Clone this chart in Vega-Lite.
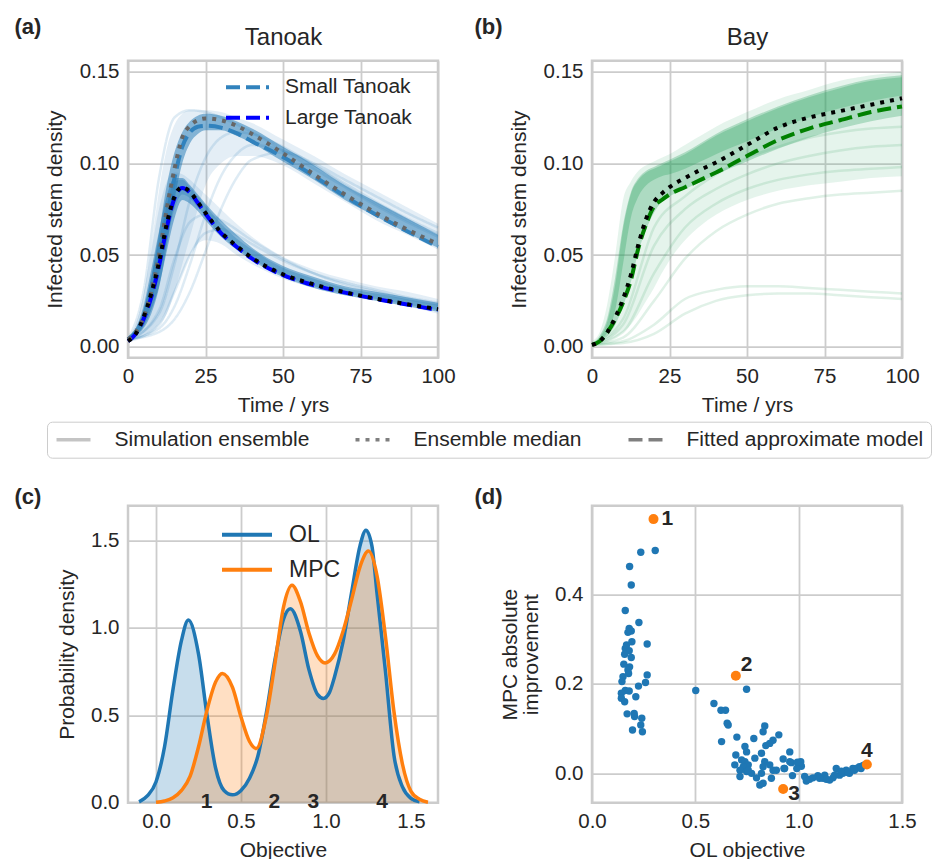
{
  "$schema": "https://vega.github.io/schema/vega-lite/v6.json",
  "background": "white",
  "padding": {"left": 12, "top": 13.7, "right": 0, "bottom": 0},
  "autosize": {"type": "pad"},
  "columns": 2,
  "bounds": "flush",
  "spacing": {"row": 148, "column": 154},
  "resolve": {"scale": {"color": "independent", "strokeDash": "independent"}},
  "datasets": {
    "band": [
      {"g":"S","t":0,"o1":0.003,"i1":0.003,"i2":0.005,"o2":0.005},
      {"g":"S","t":2.5,"o1":0.004,"i1":0.006,"i2":0.01,"o2":0.012},
      {"g":"S","t":5,"o1":0.006,"i1":0.01,"i2":0.02,"o2":0.028},
      {"g":"S","t":7.5,"o1":0.008,"i1":0.018,"i2":0.038,"o2":0.055},
      {"g":"S","t":10,"o1":0.012,"i1":0.032,"i2":0.062,"o2":0.085},
      {"g":"S","t":12.5,"o1":0.018,"i1":0.055,"i2":0.088,"o2":0.108},
      {"g":"S","t":15,"o1":0.03,"i1":0.08,"i2":0.106,"o2":0.121},
      {"g":"S","t":17.5,"o1":0.045,"i1":0.1,"i2":0.117,"o2":0.127},
      {"g":"S","t":20,"o1":0.06,"i1":0.111,"i2":0.123,"o2":0.129},
      {"g":"S","t":22.5,"o1":0.075,"i1":0.116,"i2":0.126,"o2":0.129},
      {"g":"S","t":25,"o1":0.088,"i1":0.118,"i2":0.127,"o2":0.129},
      {"g":"S","t":30,"o1":0.1,"i1":0.118,"i2":0.126,"o2":0.128},
      {"g":"S","t":35,"o1":0.104,"i1":0.115,"i2":0.123,"o2":0.125},
      {"g":"S","t":40,"o1":0.104,"i1":0.111,"i2":0.119,"o2":0.122},
      {"g":"S","t":50,"o1":0.099,"i1":0.101,"i2":0.109,"o2":0.113},
      {"g":"S","t":60,"o1":0.089,"i1":0.091,"i2":0.099,"o2":0.104},
      {"g":"S","t":70,"o1":0.079,"i1":0.08,"i2":0.088,"o2":0.094},
      {"g":"S","t":80,"o1":0.069,"i1":0.071,"i2":0.079,"o2":0.085},
      {"g":"S","t":90,"o1":0.061,"i1":0.062,"i2":0.07,"o2":0.076},
      {"g":"S","t":100,"o1":0.053,"i1":0.054,"i2":0.061,"o2":0.067},
      {"g":"L","t":0,"o1":0.003,"i1":0.003,"i2":0.004,"o2":0.005,"c1":0.003,"c2":0.004},
      {"g":"L","t":2.5,"o1":0.004,"i1":0.006,"i2":0.01,"o2":0.012,"c1":0.006,"c2":0.009},
      {"g":"L","t":5,"o1":0.006,"i1":0.011,"i2":0.022,"o2":0.028,"c1":0.012,"c2":0.02},
      {"g":"L","t":7.5,"o1":0.009,"i1":0.02,"i2":0.042,"o2":0.052,"c1":0.024,"c2":0.038},
      {"g":"L","t":10,"o1":0.013,"i1":0.033,"i2":0.063,"o2":0.075,"c1":0.04,"c2":0.058},
      {"g":"L","t":12.5,"o1":0.02,"i1":0.052,"i2":0.082,"o2":0.09,"c1":0.058,"c2":0.077},
      {"g":"L","t":15,"o1":0.03,"i1":0.07,"i2":0.092,"o2":0.095,"c1":0.075,"c2":0.09},
      {"g":"L","t":17.5,"o1":0.04,"i1":0.08,"i2":0.092,"o2":0.094,"c1":0.083,"c2":0.091},
      {"g":"L","t":20,"o1":0.05,"i1":0.078,"i2":0.088,"o2":0.091,"c1":0.081,"c2":0.087},
      {"g":"L","t":22.5,"o1":0.056,"i1":0.074,"i2":0.083,"o2":0.087,"c1":0.076,"c2":0.082},
      {"g":"L","t":25,"o1":0.058,"i1":0.069,"i2":0.078,"o2":0.083,"c1":0.071,"c2":0.077},
      {"g":"L","t":30,"o1":0.056,"i1":0.06,"i2":0.069,"o2":0.075,"c1":0.061,"c2":0.067},
      {"g":"L","t":35,"o1":0.05,"i1":0.053,"i2":0.061,"o2":0.067,"c1":0.054,"c2":0.059},
      {"g":"L","t":40,"o1":0.045,"i1":0.047,"i2":0.054,"o2":0.06,"c1":0.048,"c2":0.053},
      {"g":"L","t":50,"o1":0.037,"i1":0.038,"i2":0.044,"o2":0.049,"c1":0.039,"c2":0.043},
      {"g":"L","t":60,"o1":0.032,"i1":0.032,"i2":0.038,"o2":0.042,"c1":0.033,"c2":0.037},
      {"g":"L","t":70,"o1":0.028,"i1":0.028,"i2":0.033,"o2":0.037,"c1":0.029,"c2":0.032},
      {"g":"L","t":80,"o1":0.025,"i1":0.025,"i2":0.03,"o2":0.033,"c1":0.026,"c2":0.029},
      {"g":"L","t":90,"o1":0.022,"i1":0.022,"i2":0.027,"o2":0.03,"c1":0.023,"c2":0.026},
      {"g":"L","t":100,"o1":0.018,"i1":0.019,"i2":0.024,"o2":0.026,"c1":0.02,"c2":0.023},
      {"g":"B","t":0,"o1":0.001,"i1":0.001,"i2":0.002,"o2":0.003,"c1":0.001,"c2":0.002},
      {"g":"B","t":2.5,"o1":0.002,"i1":0.003,"i2":0.006,"o2":0.008,"c1":0.003,"c2":0.005},
      {"g":"B","t":5,"o1":0.003,"i1":0.006,"i2":0.016,"o2":0.024,"c1":0.008,"c2":0.014},
      {"g":"B","t":7.5,"o1":0.005,"i1":0.012,"i2":0.038,"o2":0.05,"c1":0.02,"c2":0.034},
      {"g":"B","t":10,"o1":0.008,"i1":0.022,"i2":0.066,"o2":0.08,"c1":0.045,"c2":0.064},
      {"g":"B","t":12.5,"o1":0.012,"i1":0.035,"i2":0.084,"o2":0.09,"c1":0.07,"c2":0.083},
      {"g":"B","t":15,"o1":0.018,"i1":0.052,"i2":0.092,"o2":0.096,"c1":0.082,"c2":0.091},
      {"g":"B","t":17.5,"o1":0.025,"i1":0.064,"i2":0.096,"o2":0.099,"c1":0.088,"c2":0.095},
      {"g":"B","t":20,"o1":0.032,"i1":0.073,"i2":0.098,"o2":0.101,"c1":0.091,"c2":0.097},
      {"g":"B","t":22.5,"o1":0.04,"i1":0.079,"i2":0.1,"o2":0.103,"c1":0.093,"c2":0.099},
      {"g":"B","t":25,"o1":0.047,"i1":0.082,"i2":0.102,"o2":0.105,"c1":0.094,"c2":0.101},
      {"g":"B","t":30,"o1":0.058,"i1":0.086,"i2":0.106,"o2":0.11,"c1":0.097,"c2":0.105},
      {"g":"B","t":35,"o1":0.066,"i1":0.09,"i2":0.111,"o2":0.115,"c1":0.101,"c2":0.11},
      {"g":"B","t":40,"o1":0.072,"i1":0.094,"i2":0.116,"o2":0.12,"c1":0.105,"c2":0.115},
      {"g":"B","t":50,"o1":0.08,"i1":0.101,"i2":0.124,"o2":0.128,"c1":0.112,"c2":0.123},
      {"g":"B","t":60,"o1":0.085,"i1":0.108,"i2":0.131,"o2":0.135,"c1":0.119,"c2":0.13},
      {"g":"B","t":70,"o1":0.088,"i1":0.114,"i2":0.137,"o2":0.14,"c1":0.125,"c2":0.136},
      {"g":"B","t":80,"o1":0.09,"i1":0.119,"i2":0.142,"o2":0.145,"c1":0.13,"c2":0.141},
      {"g":"B","t":90,"o1":0.092,"i1":0.123,"i2":0.146,"o2":0.148,"c1":0.134,"c2":0.145},
      {"g":"B","t":100,"o1":0.093,"i1":0.126,"i2":0.148,"o2":0.15,"c1":0.137,"c2":0.147}
    ],
    "runs": [
      {"g":"S","r":"S1","k":"ens","t":0,"v":0.004},{"g":"S","r":"S1","k":"ens","t":10,"v":0.01},{"g":"S","r":"S1","k":"ens","t":15,"v":0.022},{"g":"S","r":"S1","k":"ens","t":20,"v":0.045},{"g":"S","r":"S1","k":"ens","t":25,"v":0.072},{"g":"S","r":"S1","k":"ens","t":30,"v":0.093},{"g":"S","r":"S1","k":"ens","t":35,"v":0.105},{"g":"S","r":"S1","k":"ens","t":40,"v":0.11},{"g":"S","r":"S1","k":"ens","t":50,"v":0.107},{"g":"S","r":"S1","k":"ens","t":60,"v":0.099},{"g":"S","r":"S1","k":"ens","t":70,"v":0.089},{"g":"S","r":"S1","k":"ens","t":80,"v":0.079},{"g":"S","r":"S1","k":"ens","t":90,"v":0.07},{"g":"S","r":"S1","k":"ens","t":100,"v":0.062},
      {"g":"S","r":"S2","k":"ens","t":0,"v":0.004},{"g":"S","r":"S2","k":"ens","t":10,"v":0.018},{"g":"S","r":"S2","k":"ens","t":15,"v":0.045},{"g":"S","r":"S2","k":"ens","t":20,"v":0.08},{"g":"S","r":"S2","k":"ens","t":25,"v":0.103},{"g":"S","r":"S2","k":"ens","t":30,"v":0.114},{"g":"S","r":"S2","k":"ens","t":35,"v":0.117},{"g":"S","r":"S2","k":"ens","t":40,"v":0.116},{"g":"S","r":"S2","k":"ens","t":50,"v":0.109},{"g":"S","r":"S2","k":"ens","t":60,"v":0.099},{"g":"S","r":"S2","k":"ens","t":70,"v":0.088},{"g":"S","r":"S2","k":"ens","t":80,"v":0.078},{"g":"S","r":"S2","k":"ens","t":90,"v":0.069},{"g":"S","r":"S2","k":"ens","t":100,"v":0.061},
      {"g":"S","r":"S3","k":"ens","t":0,"v":0.004},{"g":"S","r":"S3","k":"ens","t":10,"v":0.008},{"g":"S","r":"S3","k":"ens","t":15,"v":0.015},{"g":"S","r":"S3","k":"ens","t":20,"v":0.03},{"g":"S","r":"S3","k":"ens","t":25,"v":0.052},{"g":"S","r":"S3","k":"ens","t":30,"v":0.075},{"g":"S","r":"S3","k":"ens","t":35,"v":0.092},{"g":"S","r":"S3","k":"ens","t":40,"v":0.102},{"g":"S","r":"S3","k":"ens","t":50,"v":0.106},{"g":"S","r":"S3","k":"ens","t":60,"v":0.1},{"g":"S","r":"S3","k":"ens","t":70,"v":0.091},{"g":"S","r":"S3","k":"ens","t":80,"v":0.082},{"g":"S","r":"S3","k":"ens","t":90,"v":0.073},{"g":"S","r":"S3","k":"ens","t":100,"v":0.065},
      {"g":"S","r":"S4","k":"ens","t":0,"v":0.004},{"g":"S","r":"S4","k":"ens","t":5,"v":0.03},{"g":"S","r":"S4","k":"ens","t":10,"v":0.092},{"g":"S","r":"S4","k":"ens","t":15,"v":0.125},{"g":"S","r":"S4","k":"ens","t":20,"v":0.129},{"g":"S","r":"S4","k":"ens","t":25,"v":0.128},{"g":"S","r":"S4","k":"ens","t":30,"v":0.125},{"g":"S","r":"S4","k":"ens","t":40,"v":0.117},{"g":"S","r":"S4","k":"ens","t":50,"v":0.107},{"g":"S","r":"S4","k":"ens","t":60,"v":0.097},{"g":"S","r":"S4","k":"ens","t":70,"v":0.087},{"g":"S","r":"S4","k":"ens","t":80,"v":0.077},{"g":"S","r":"S4","k":"ens","t":90,"v":0.068},{"g":"S","r":"S4","k":"ens","t":100,"v":0.06},
      {"g":"L","r":"L1","k":"ens","t":0,"v":0.003},{"g":"L","r":"L1","k":"ens","t":10,"v":0.012},{"g":"L","r":"L1","k":"ens","t":15,"v":0.03},{"g":"L","r":"L1","k":"ens","t":20,"v":0.05},{"g":"L","r":"L1","k":"ens","t":25,"v":0.062},{"g":"L","r":"L1","k":"ens","t":30,"v":0.064},{"g":"L","r":"L1","k":"ens","t":35,"v":0.061},{"g":"L","r":"L1","k":"ens","t":40,"v":0.056},{"g":"L","r":"L1","k":"ens","t":50,"v":0.047},{"g":"L","r":"L1","k":"ens","t":60,"v":0.04},{"g":"L","r":"L1","k":"ens","t":70,"v":0.035},{"g":"L","r":"L1","k":"ens","t":80,"v":0.031},{"g":"L","r":"L1","k":"ens","t":90,"v":0.027},{"g":"L","r":"L1","k":"ens","t":100,"v":0.024},
      {"g":"L","r":"L2","k":"ens","t":0,"v":0.003},{"g":"L","r":"L2","k":"ens","t":10,"v":0.02},{"g":"L","r":"L2","k":"ens","t":15,"v":0.048},{"g":"L","r":"L2","k":"ens","t":20,"v":0.068},{"g":"L","r":"L2","k":"ens","t":25,"v":0.072},{"g":"L","r":"L2","k":"ens","t":30,"v":0.069},{"g":"L","r":"L2","k":"ens","t":40,"v":0.058},{"g":"L","r":"L2","k":"ens","t":50,"v":0.048},{"g":"L","r":"L2","k":"ens","t":60,"v":0.04},{"g":"L","r":"L2","k":"ens","t":70,"v":0.034},{"g":"L","r":"L2","k":"ens","t":80,"v":0.03},{"g":"L","r":"L2","k":"ens","t":90,"v":0.026},{"g":"L","r":"L2","k":"ens","t":100,"v":0.023},
      {"g":"B","r":"B1","k":"ens","t":0,"v":0.001},{"g":"B","r":"B1","k":"ens","t":10,"v":0.003},{"g":"B","r":"B1","k":"ens","t":20,"v":0.012},{"g":"B","r":"B1","k":"ens","t":30,"v":0.026},{"g":"B","r":"B1","k":"ens","t":40,"v":0.031},{"g":"B","r":"B1","k":"ens","t":50,"v":0.033},{"g":"B","r":"B1","k":"ens","t":60,"v":0.033},{"g":"B","r":"B1","k":"ens","t":70,"v":0.032},{"g":"B","r":"B1","k":"ens","t":80,"v":0.031},{"g":"B","r":"B1","k":"ens","t":90,"v":0.03},{"g":"B","r":"B1","k":"ens","t":100,"v":0.029},
      {"g":"B","r":"B2","k":"ens","t":0,"v":0.001},{"g":"B","r":"B2","k":"ens","t":10,"v":0.002},{"g":"B","r":"B2","k":"ens","t":20,"v":0.007},{"g":"B","r":"B2","k":"ens","t":30,"v":0.018},{"g":"B","r":"B2","k":"ens","t":40,"v":0.025},{"g":"B","r":"B2","k":"ens","t":50,"v":0.028},{"g":"B","r":"B2","k":"ens","t":60,"v":0.029},{"g":"B","r":"B2","k":"ens","t":70,"v":0.029},{"g":"B","r":"B2","k":"ens","t":80,"v":0.028},{"g":"B","r":"B2","k":"ens","t":90,"v":0.027},{"g":"B","r":"B2","k":"ens","t":100,"v":0.026},
      {"g":"B","r":"B3","k":"ens","t":0,"v":0.001},{"g":"B","r":"B3","k":"ens","t":10,"v":0.005},{"g":"B","r":"B3","k":"ens","t":20,"v":0.025},{"g":"B","r":"B3","k":"ens","t":30,"v":0.048},{"g":"B","r":"B3","k":"ens","t":40,"v":0.063},{"g":"B","r":"B3","k":"ens","t":50,"v":0.072},{"g":"B","r":"B3","k":"ens","t":60,"v":0.078},{"g":"B","r":"B3","k":"ens","t":70,"v":0.081},{"g":"B","r":"B3","k":"ens","t":80,"v":0.083},{"g":"B","r":"B3","k":"ens","t":90,"v":0.084},{"g":"B","r":"B3","k":"ens","t":100,"v":0.085},
      {"g":"B","r":"B4","k":"ens","t":0,"v":0.001},{"g":"B","r":"B4","k":"ens","t":10,"v":0.008},{"g":"B","r":"B4","k":"ens","t":20,"v":0.04},{"g":"B","r":"B4","k":"ens","t":30,"v":0.065},{"g":"B","r":"B4","k":"ens","t":40,"v":0.078},{"g":"B","r":"B4","k":"ens","t":50,"v":0.086},{"g":"B","r":"B4","k":"ens","t":60,"v":0.091},{"g":"B","r":"B4","k":"ens","t":70,"v":0.094},{"g":"B","r":"B4","k":"ens","t":80,"v":0.096},{"g":"B","r":"B4","k":"ens","t":90,"v":0.097},{"g":"B","r":"B4","k":"ens","t":100,"v":0.098},
      {"g":"B","r":"B5","k":"ens","t":0,"v":0.001},{"g":"B","r":"B5","k":"ens","t":10,"v":0.012},{"g":"B","r":"B5","k":"ens","t":20,"v":0.055},{"g":"B","r":"B5","k":"ens","t":30,"v":0.075},{"g":"B","r":"B5","k":"ens","t":40,"v":0.086},{"g":"B","r":"B5","k":"ens","t":50,"v":0.094},{"g":"B","r":"B5","k":"ens","t":60,"v":0.1},{"g":"B","r":"B5","k":"ens","t":70,"v":0.104},{"g":"B","r":"B5","k":"ens","t":80,"v":0.107},{"g":"B","r":"B5","k":"ens","t":90,"v":0.109},{"g":"B","r":"B5","k":"ens","t":100,"v":0.11},
      {"g":"B","r":"B6","k":"ens","t":0,"v":0.001},{"g":"B","r":"B6","k":"ens","t":10,"v":0.015},{"g":"B","r":"B6","k":"ens","t":20,"v":0.065},{"g":"B","r":"B6","k":"ens","t":30,"v":0.082},{"g":"B","r":"B6","k":"ens","t":40,"v":0.094},{"g":"B","r":"B6","k":"ens","t":50,"v":0.103},{"g":"B","r":"B6","k":"ens","t":60,"v":0.109},{"g":"B","r":"B6","k":"ens","t":70,"v":0.114},{"g":"B","r":"B6","k":"ens","t":80,"v":0.117},{"g":"B","r":"B6","k":"ens","t":90,"v":0.119},{"g":"B","r":"B6","k":"ens","t":100,"v":0.12}
    ],
    "lines": [
      {"g":"S","k":"fit","t":0,"v":0.004},{"g":"S","k":"fit","t":2.5,"v":0.008},{"g":"S","k":"fit","t":5,"v":0.015},{"g":"S","k":"fit","t":7.5,"v":0.028},{"g":"S","k":"fit","t":10,"v":0.047},{"g":"S","k":"fit","t":12.5,"v":0.07},{"g":"S","k":"fit","t":15,"v":0.092},{"g":"S","k":"fit","t":17.5,"v":0.109},{"g":"S","k":"fit","t":20,"v":0.117},{"g":"S","k":"fit","t":22.5,"v":0.12},{"g":"S","k":"fit","t":25,"v":0.1205},{"g":"S","k":"fit","t":30,"v":0.1195},{"g":"S","k":"fit","t":35,"v":0.1165},{"g":"S","k":"fit","t":40,"v":0.112},{"g":"S","k":"fit","t":50,"v":0.1035},{"g":"S","k":"fit","t":60,"v":0.093},{"g":"S","k":"fit","t":70,"v":0.082},{"g":"S","k":"fit","t":80,"v":0.072},{"g":"S","k":"fit","t":90,"v":0.063},{"g":"S","k":"fit","t":100,"v":0.0545},
      {"g":"S","k":"med","t":0,"v":0.004},{"g":"S","k":"med","t":2.5,"v":0.008},{"g":"S","k":"med","t":5,"v":0.016},{"g":"S","k":"med","t":7.5,"v":0.03},{"g":"S","k":"med","t":10,"v":0.05},{"g":"S","k":"med","t":12.5,"v":0.075},{"g":"S","k":"med","t":15,"v":0.097},{"g":"S","k":"med","t":17.5,"v":0.114},{"g":"S","k":"med","t":20,"v":0.1205},{"g":"S","k":"med","t":22.5,"v":0.1235},{"g":"S","k":"med","t":25,"v":0.1245},{"g":"S","k":"med","t":30,"v":0.1235},{"g":"S","k":"med","t":35,"v":0.1205},{"g":"S","k":"med","t":40,"v":0.116},{"g":"S","k":"med","t":50,"v":0.1055},{"g":"S","k":"med","t":60,"v":0.094},{"g":"S","k":"med","t":70,"v":0.083},{"g":"S","k":"med","t":80,"v":0.073},{"g":"S","k":"med","t":90,"v":0.064},{"g":"S","k":"med","t":100,"v":0.056},
      {"g":"L","k":"fit","t":0,"v":0.003},{"g":"L","k":"fit","t":2.5,"v":0.007},{"g":"L","k":"fit","t":5,"v":0.015},{"g":"L","k":"fit","t":7.5,"v":0.027},{"g":"L","k":"fit","t":10,"v":0.044},{"g":"L","k":"fit","t":12.5,"v":0.065},{"g":"L","k":"fit","t":15,"v":0.081},{"g":"L","k":"fit","t":17.5,"v":0.0865},{"g":"L","k":"fit","t":20,"v":0.084},{"g":"L","k":"fit","t":22.5,"v":0.0785},{"g":"L","k":"fit","t":25,"v":0.0725},{"g":"L","k":"fit","t":30,"v":0.062},{"g":"L","k":"fit","t":35,"v":0.0545},{"g":"L","k":"fit","t":40,"v":0.048},{"g":"L","k":"fit","t":50,"v":0.039},{"g":"L","k":"fit","t":60,"v":0.0335},{"g":"L","k":"fit","t":70,"v":0.0295},{"g":"L","k":"fit","t":80,"v":0.026},{"g":"L","k":"fit","t":90,"v":0.023},{"g":"L","k":"fit","t":100,"v":0.02},
      {"g":"L","k":"med","t":0,"v":0.003},{"g":"L","k":"med","t":2.5,"v":0.007},{"g":"L","k":"med","t":5,"v":0.016},{"g":"L","k":"med","t":7.5,"v":0.029},{"g":"L","k":"med","t":10,"v":0.046},{"g":"L","k":"med","t":12.5,"v":0.067},{"g":"L","k":"med","t":15,"v":0.082},{"g":"L","k":"med","t":17.5,"v":0.087},{"g":"L","k":"med","t":20,"v":0.0845},{"g":"L","k":"med","t":22.5,"v":0.079},{"g":"L","k":"med","t":25,"v":0.073},{"g":"L","k":"med","t":30,"v":0.0625},{"g":"L","k":"med","t":35,"v":0.055},{"g":"L","k":"med","t":40,"v":0.0485},{"g":"L","k":"med","t":50,"v":0.0395},{"g":"L","k":"med","t":60,"v":0.034},{"g":"L","k":"med","t":70,"v":0.0297},{"g":"L","k":"med","t":80,"v":0.0262},{"g":"L","k":"med","t":90,"v":0.0232},{"g":"L","k":"med","t":100,"v":0.0205},
      {"g":"B","k":"fit","t":0,"v":0.001},{"g":"B","k":"fit","t":2.5,"v":0.003},{"g":"B","k":"fit","t":5,"v":0.008},{"g":"B","k":"fit","t":7.5,"v":0.015},{"g":"B","k":"fit","t":10,"v":0.024},{"g":"B","k":"fit","t":12.5,"v":0.036},{"g":"B","k":"fit","t":15,"v":0.054},{"g":"B","k":"fit","t":17.5,"v":0.067},{"g":"B","k":"fit","t":20,"v":0.0765},{"g":"B","k":"fit","t":22.5,"v":0.08},{"g":"B","k":"fit","t":25,"v":0.083},{"g":"B","k":"fit","t":30,"v":0.087},{"g":"B","k":"fit","t":35,"v":0.091},{"g":"B","k":"fit","t":40,"v":0.095},{"g":"B","k":"fit","t":50,"v":0.104},{"g":"B","k":"fit","t":60,"v":0.1127},{"g":"B","k":"fit","t":70,"v":0.119},{"g":"B","k":"fit","t":80,"v":0.1235},{"g":"B","k":"fit","t":90,"v":0.128},{"g":"B","k":"fit","t":100,"v":0.131},
      {"g":"B","k":"med","t":0,"v":0.001},{"g":"B","k":"med","t":2.5,"v":0.003},{"g":"B","k":"med","t":5,"v":0.008},{"g":"B","k":"med","t":7.5,"v":0.016},{"g":"B","k":"med","t":10,"v":0.026},{"g":"B","k":"med","t":12.5,"v":0.039},{"g":"B","k":"med","t":15,"v":0.056},{"g":"B","k":"med","t":17.5,"v":0.07},{"g":"B","k":"med","t":20,"v":0.079},{"g":"B","k":"med","t":22.5,"v":0.0835},{"g":"B","k":"med","t":25,"v":0.087},{"g":"B","k":"med","t":30,"v":0.092},{"g":"B","k":"med","t":35,"v":0.0965},{"g":"B","k":"med","t":40,"v":0.1005},{"g":"B","k":"med","t":50,"v":0.11},{"g":"B","k":"med","t":60,"v":0.1195},{"g":"B","k":"med","t":70,"v":0.125},{"g":"B","k":"med","t":80,"v":0.1285},{"g":"B","k":"med","t":90,"v":0.132},{"g":"B","k":"med","t":100,"v":0.1355}
    ],
    "kde": [
      {"m":"OL","x":-0.1,"d":0.005},{"m":"OL","x":-0.05,"d":0.04},{"m":"OL","x":0,"d":0.12},{"m":"OL","x":0.05,"d":0.32},{"m":"OL","x":0.1,"d":0.65},{"m":"OL","x":0.15,"d":0.93},{"m":"OL","x":0.19,"d":1.045},{"m":"OL","x":0.25,"d":0.85},{"m":"OL","x":0.3,"d":0.5},{"m":"OL","x":0.35,"d":0.2},{"m":"OL","x":0.4,"d":0.07},{"m":"OL","x":0.45,"d":0.045},{"m":"OL","x":0.5,"d":0.07},{"m":"OL","x":0.55,"d":0.14},{"m":"OL","x":0.6,"d":0.27},{"m":"OL","x":0.65,"d":0.52},{"m":"OL","x":0.7,"d":0.82},{"m":"OL","x":0.75,"d":1.05},{"m":"OL","x":0.79,"d":1.11},{"m":"OL","x":0.85,"d":0.98},{"m":"OL","x":0.9,"d":0.76},{"m":"OL","x":0.95,"d":0.62},{"m":"OL","x":0.985,"d":0.597},{"m":"OL","x":1.02,"d":0.63},{"m":"OL","x":1.05,"d":0.72},{"m":"OL","x":1.1,"d":0.92},{"m":"OL","x":1.15,"d":1.2},{"m":"OL","x":1.2,"d":1.47},{"m":"OL","x":1.235,"d":1.56},{"m":"OL","x":1.27,"d":1.47},{"m":"OL","x":1.3,"d":1.2},{"m":"OL","x":1.35,"d":0.75},{"m":"OL","x":1.4,"d":0.27},{"m":"OL","x":1.45,"d":0.09},{"m":"OL","x":1.5,"d":0.025},{"m":"OL","x":1.55,"d":0.005},
      {"m":"MPC","x":0.0,"d":0.003},{"m":"MPC","x":0.05,"d":0.01},{"m":"MPC","x":0.1,"d":0.028},{"m":"MPC","x":0.15,"d":0.07},{"m":"MPC","x":0.2,"d":0.15},{"m":"MPC","x":0.25,"d":0.32},{"m":"MPC","x":0.3,"d":0.53},{"m":"MPC","x":0.35,"d":0.69},{"m":"MPC","x":0.39,"d":0.74},{"m":"MPC","x":0.45,"d":0.66},{"m":"MPC","x":0.5,"d":0.49},{"m":"MPC","x":0.55,"d":0.35},{"m":"MPC","x":0.59,"d":0.31},{"m":"MPC","x":0.65,"d":0.5},{"m":"MPC","x":0.7,"d":0.8},{"m":"MPC","x":0.75,"d":1.12},{"m":"MPC","x":0.8,"d":1.245},{"m":"MPC","x":0.85,"d":1.15},{"m":"MPC","x":0.9,"d":0.97},{"m":"MPC","x":0.95,"d":0.84},{"m":"MPC","x":0.995,"d":0.8},{"m":"MPC","x":1.05,"d":0.85},{"m":"MPC","x":1.1,"d":0.98},{"m":"MPC","x":1.15,"d":1.16},{"m":"MPC","x":1.2,"d":1.35},{"m":"MPC","x":1.25,"d":1.44},{"m":"MPC","x":1.3,"d":1.3},{"m":"MPC","x":1.35,"d":0.95},{"m":"MPC","x":1.4,"d":0.52},{"m":"MPC","x":1.45,"d":0.22},{"m":"MPC","x":1.5,"d":0.065},{"m":"MPC","x":1.55,"d":0.02},{"m":"MPC","x":1.6,"d":0.003}
    ],
    "obj": [
      {"ol":0.236,"imp":0.494},{"ol":0.306,"imp":0.498},{"ol":0.182,"imp":0.462},{"ol":0.19,"imp":0.421},{"ol":0.161,"imp":0.364},{"ol":0.227,"imp":0.337},{"ol":0.18,"imp":0.324},{"ol":0.19,"imp":0.318},{"ol":0.174,"imp":0.315},{"ol":0.267,"imp":0.289},{"ol":0.161,"imp":0.279},{"ol":0.18,"imp":0.274},{"ol":0.158,"imp":0.266},{"ol":0.19,"imp":0.259},{"ol":0.154,"imp":0.244},{"ol":0.182,"imp":0.238},{"ol":0.174,"imp":0.231},{"ol":0.267,"imp":0.22},{"ol":0.15,"imp":0.216},{"ol":0.177,"imp":0.223},{"ol":0.259,"imp":0.203},{"ol":0.225,"imp":0.195},{"ol":0.161,"imp":0.185},{"ol":0.142,"imp":0.179},{"ol":0.18,"imp":0.184},{"ol":0.212,"imp":0.171},{"ol":0.142,"imp":0.168},{"ol":0.158,"imp":0.16},{"ol":0.17,"imp":0.133},{"ol":0.204,"imp":0.134},{"ol":0.241,"imp":0.123},{"ol":0.236,"imp":0.108},{"ol":0.244,"imp":0.093},{"ol":0.196,"imp":0.097},{"ol":0.206,"imp":0.127},{"ol":0.167,"imp":0.287},{"ol":0.145,"imp":0.205},{"ol":0.193,"imp":0.294},
      {"ol":0.502,"imp":0.185},{"ol":0.59,"imp":0.156},{"ol":0.624,"imp":0.141},{"ol":0.646,"imp":0.141},{"ol":0.654,"imp":0.112},{"ol":0.659,"imp":0.108},{"ol":0.627,"imp":0.071},{"ol":0.701,"imp":0.081},{"ol":0.748,"imp":0.188},{"ol":0.836,"imp":0.106},{"ol":0.828,"imp":0.093},{"ol":0.783,"imp":0.078},{"ol":0.904,"imp":0.086},{"ol":0.876,"imp":0.074},{"ol":0.86,"imp":0.067},{"ol":0.841,"imp":0.062},{"ol":0.74,"imp":0.06},{"ol":0.748,"imp":0.048},{"ol":0.957,"imp":0.048},{"ol":0.696,"imp":0.041},{"ol":0.724,"imp":0.03},{"ol":0.74,"imp":0.026},{"ol":0.756,"imp":0.019},{"ol":0.732,"imp":0.015},{"ol":0.716,"imp":0.007},{"ol":0.748,"imp":0.004},{"ol":0.788,"imp":0.034},{"ol":0.82,"imp":0.045},{"ol":0.836,"imp":0.026},{"ol":0.828,"imp":0.015},{"ol":0.86,"imp":0.019},{"ol":0.876,"imp":0.007},{"ol":0.925,"imp":0.032},{"ol":0.965,"imp":0.024},{"ol":0.929,"imp":0.011},{"ol":1.01,"imp":0.026},{"ol":1.013,"imp":0.016},{"ol":0.97,"imp":-0.005},{"ol":0.716,"imp":-0.007},{"ol":0.812,"imp":-0.026},{"ol":0.828,"imp":-0.022},{"ol":0.868,"imp":-0.011},{"ol":0.892,"imp":0.007},{"ol":0.772,"imp":0.0},{"ol":0.796,"imp":-0.01},{"ol":0.756,"imp":0.007},{"ol":0.691,"imp":0.019},{"ol":0.82,"imp":0.0},
      {"ol":1.029,"imp":-0.007},{"ol":1.053,"imp":-0.013},{"ol":1.037,"imp":-0.017},{"ol":1.093,"imp":-0.005},{"ol":1.118,"imp":-0.011},{"ol":1.15,"imp":-0.015},{"ol":1.182,"imp":0.011},{"ol":1.198,"imp":-0.004},{"ol":1.23,"imp":0.007},{"ol":1.246,"imp":0.0},{"ol":1.262,"imp":0.011},{"ol":1.294,"imp":0.015},{"ol":1.214,"imp":0.0},{"ol":1.278,"imp":0.011},{"ol":1.166,"imp":-0.01},{"ol":1.069,"imp":-0.01},{"ol":1.31,"imp":0.017},{"ol":1.126,"imp":-0.004},{"ol":0.991,"imp":0.011},{"ol":0.994,"imp":0.025},{"ol":0.957,"imp":0.026},{"ol":0.932,"imp":0.011},{"ol":1.174,"imp":-0.004},{"ol":1.238,"imp":0.002},{"ol":1.27,"imp":0.007},{"ol":1.134,"imp":-0.013},{"ol":1.101,"imp":-0.011},{"ol":1.206,"imp":0.005},{"ol":1.318,"imp":0.019},{"ol":1.302,"imp":0.011},
      {"ol":0.2975,"imp":0.568,"lab":"1"},{"ol":0.696,"imp":0.218,"lab":"2"},{"ol":0.925,"imp":-0.035,"lab":"3"},{"ol":1.33,"imp":0.02,"lab":"4"}
    ]
  },
  "concat": [
    {
      "width": 310,
      "height": 297,
      "layer": [
        {
          "layer": [
            {
              "data": {"name": "band"},
              "transform": [{"filter": "datum.g !== 'B'"}],
              "mark": {"type": "area", "interpolate": "monotone", "color": "#1f77b4", "opacity": 0.12},
              "encoding": {
                "x": {"field": "t", "type": "quantitative", "scale": {"domain": [0, 100], "nice": false, "zero": false}, "axis": {"values": [0, 25, 50, 75, 100], "title": "Time / yrs", "titleX": 155, "titleY": 53.5}},
                "y": {"field": "o1", "type": "quantitative", "scale": {"domain": [-0.006, 0.156], "nice": false, "zero": false}, "axis": {"values": [0, 0.05, 0.1, 0.15], "format": ".2f", "title": "Infected stem density", "titleX": -67, "titleY": 148.5}},
                "y2": {"field": "o2"},
                "detail": {"field": "g"}
              }
            },
            {
              "data": {"name": "band"},
              "transform": [{"filter": "datum.g !== 'B'"}],
              "mark": {"type": "area", "interpolate": "monotone", "color": "#1f77b4", "opacity": 0.5},
              "encoding": {
                "x": {"field": "t", "type": "quantitative"},
                "y": {"field": "i1", "type": "quantitative"},
                "y2": {"field": "i2"},
                "detail": {"field": "g"}
              }
            },
            {
              "data": {"name": "band"},
              "transform": [{"filter": "datum.g === 'L'"}],
              "mark": {"type": "area", "interpolate": "monotone", "color": "#1f77b4", "opacity": 0.3},
              "encoding": {
                "x": {"field": "t", "type": "quantitative"},
                "y": {"field": "c1", "type": "quantitative"},
                "y2": {"field": "c2"}
              }
            },
            {
              "data": {"name": "runs"},
              "transform": [{"filter": "datum.g !== 'B'"}],
              "mark": {"type": "line", "interpolate": "monotone", "color": "#1f77b4", "opacity": 0.15, "strokeWidth": 2.5},
              "encoding": {
                "x": {"field": "t", "type": "quantitative"},
                "y": {"field": "v", "type": "quantitative"},
                "detail": {"field": "r"},
                "strokeDash": {
                  "field": "k", "type": "nominal",
                  "scale": {"domain": ["ens", "med", "fit"], "range": [[1, 0], [4, 6], [14, 6]]},
                  "legend": {
                    "title": null, "orient": "none", "legendX": -81, "legendY": 361,
                    "direction": "horizontal", "columns": 3,
                    "symbolType": "stroke", "symbolSize": 1156, "symbolStrokeWidth": 3.5,
                    "symbolStrokeColor": "#8f8f8f",
                    "labelFontSize": 21, "labelOffset": 22, "columnPadding": 44, "labelLimit": 400,
                    "padding": 7.5, "clipHeight": 21,
                    "strokeColor": "#cccccc", "fillColor": "white", "cornerRadius": 5,
                    "labelExpr": "datum.value === 'ens' ? 'Simulation ensemble' : datum.value === 'med' ? 'Ensemble median' : 'Fitted approximate model'",
                    "encode": {"symbols": {"update": {"stroke": [{"test": "datum.value === 'ens'", "value": "#c4c4c4"}, {"value": "#7f7f7f"}], "opacity": {"value": 1}}}}
                  }
                }
              }
            },
            {
              "data": {"name": "lines"},
              "transform": [{"filter": "datum.g !== 'B' && datum.k === 'fit'"}],
              "mark": {"type": "line", "interpolate": "monotone", "strokeWidth": 4, "strokeDash": [14, 6]},
              "encoding": {
                "x": {"field": "t", "type": "quantitative"},
                "y": {"field": "v", "type": "quantitative"},
                "color": {
                  "field": "g", "type": "nominal",
                  "scale": {"domain": ["S", "L"], "range": ["#3182bd", "#0000ff"]},
                  "legend": {
                    "title": null, "orient": "none", "legendX": 96, "legendY": 16,
                    "symbolType": "stroke", "symbolSize": 1849, "symbolStrokeWidth": 4, "symbolDash": [14, 6],
                    "labelFontSize": 21, "labelOffset": 14, "rowPadding": 8.5, "padding": 0, "clipHeight": 21,
                    "labelExpr": "datum.value === 'S' ? 'Small Tanoak' : 'Large Tanoak'"
                  }
                }
              }
            },
            {
              "data": {"name": "lines"},
              "transform": [{"filter": "datum.g === 'S' && datum.k === 'med'"}],
              "mark": {"type": "line", "interpolate": "monotone", "strokeWidth": 4, "color": "#666666", "strokeDash": [4, 6]},
              "encoding": {
                "x": {"field": "t", "type": "quantitative"},
                "y": {"field": "v", "type": "quantitative"}
              }
            },
            {
              "data": {"name": "lines"},
              "transform": [{"filter": "datum.g === 'L' && datum.k === 'med'"}],
              "mark": {"type": "line", "interpolate": "monotone", "strokeWidth": 4, "color": "#000000", "strokeDash": [4, 6]},
              "encoding": {
                "x": {"field": "t", "type": "quantitative"},
                "y": {"field": "v", "type": "quantitative"}
              }
            }
          ]
        },
        {
          "data": {"name": "lines"},
          "mark": {"type": "point", "opacity": 0},
          "encoding": {
            "x": {"field": "t", "type": "quantitative", "axis": {"orient": "top", "title": "Tanoak", "labels": false, "ticks": false, "domain": false, "grid": false, "titleFontSize": 24, "titleX": 155, "titleY": -15.7, "titleAlign": "center"}},
            "y": {"field": "v", "type": "quantitative", "axis": {"orient": "right", "title": "(a)", "labels": false, "ticks": false, "domain": false, "grid": false, "titleAngle": 0, "titleX": -424, "titleY": -27.3, "titleAlign": "left", "titleFontWeight": "bold", "titleFontSize": 22}}
          }
        }
      ],
      "resolve": {"axis": {"x": "independent", "y": "independent"}}
    },
    {
      "width": 310,
      "height": 297,
      "layer": [
        {
          "layer": [
            {
              "data": {"name": "band"},
              "transform": [{"filter": "datum.g === 'B'"}],
              "mark": {"type": "area", "interpolate": "monotone", "color": "#2ca25f", "opacity": 0.12},
              "encoding": {
                "x": {"field": "t", "type": "quantitative", "scale": {"domain": [0, 100], "nice": false, "zero": false}, "axis": {"values": [0, 25, 50, 75, 100], "title": "Time / yrs", "titleX": 155, "titleY": 53.5}},
                "y": {"field": "o1", "type": "quantitative", "scale": {"domain": [-0.006, 0.156], "nice": false, "zero": false}, "axis": {"values": [0, 0.05, 0.1, 0.15], "format": ".2f", "title": "Infected stem density", "titleX": -66, "titleY": 148.5}},
                "y2": {"field": "o2"}
              }
            },
            {
              "data": {"name": "band"},
              "transform": [{"filter": "datum.g === 'B'"}],
              "mark": {"type": "area", "interpolate": "monotone", "color": "#2ca25f", "opacity": 0.3},
              "encoding": {
                "x": {"field": "t", "type": "quantitative"},
                "y": {"field": "i1", "type": "quantitative"},
                "y2": {"field": "i2"}
              }
            },
            {
              "data": {"name": "band"},
              "transform": [{"filter": "datum.g === 'B'"}],
              "mark": {"type": "area", "interpolate": "monotone", "color": "#2ca25f", "opacity": 0.3},
              "encoding": {
                "x": {"field": "t", "type": "quantitative"},
                "y": {"field": "c1", "type": "quantitative"},
                "y2": {"field": "c2"}
              }
            },
            {
              "data": {"name": "runs"},
              "transform": [{"filter": "datum.g === 'B'"}],
              "mark": {"type": "line", "interpolate": "monotone", "color": "#2ca25f", "opacity": 0.15, "strokeWidth": 2.5},
              "encoding": {
                "x": {"field": "t", "type": "quantitative"},
                "y": {"field": "v", "type": "quantitative"},
                "detail": {"field": "r"}
              }
            },
            {
              "data": {"name": "lines"},
              "transform": [{"filter": "datum.g === 'B' && datum.k === 'fit'"}],
              "mark": {"type": "line", "interpolate": "monotone", "strokeWidth": 4, "color": "#008000", "strokeDash": [14, 6]},
              "encoding": {
                "x": {"field": "t", "type": "quantitative"},
                "y": {"field": "v", "type": "quantitative"}
              }
            },
            {
              "data": {"name": "lines"},
              "transform": [{"filter": "datum.g === 'B' && datum.k === 'med'"}],
              "mark": {"type": "line", "interpolate": "monotone", "strokeWidth": 4, "color": "#000000", "strokeDash": [4, 6]},
              "encoding": {
                "x": {"field": "t", "type": "quantitative"},
                "y": {"field": "v", "type": "quantitative"}
              }
            }
          ]
        },
        {
          "data": {"name": "lines"},
          "mark": {"type": "point", "opacity": 0},
          "encoding": {
            "x": {"field": "t", "type": "quantitative", "axis": {"orient": "top", "title": "Bay", "labels": false, "ticks": false, "domain": false, "grid": false, "titleFontSize": 24, "titleX": 155, "titleY": -15.7, "titleAlign": "center"}},
            "y": {"field": "v", "type": "quantitative", "axis": {"orient": "right", "title": "(b)", "labels": false, "ticks": false, "domain": false, "grid": false, "titleAngle": 0, "titleX": -428, "titleY": -27.3, "titleAlign": "left", "titleFontWeight": "bold", "titleFontSize": 22}}
          }
        }
      ],
      "resolve": {"axis": {"x": "independent", "y": "independent"}}
    },
    {
      "width": 310,
      "height": 297,
      "layer": [
        {
          "layer": [
            {
              "data": {"name": "kde"},
              "transform": [{"filter": "datum.m === 'OL'"}],
              "mark": {"type": "area", "interpolate": "monotone", "color": "#1f77b4", "fillOpacity": 0.25},
              "encoding": {
                "x": {"field": "x", "type": "quantitative", "scale": {"domain": [-0.165, 1.659], "nice": false, "zero": false}, "axis": {"values": [0, 0.5, 1, 1.5], "format": ".1f", "title": "Objective", "titleX": 155, "titleY": 53.5}},
                "y": {"field": "d", "type": "quantitative", "scale": {"domain": [0, 1.7], "nice": false}, "axis": {"values": [0, 0.5, 1, 1.5], "format": ".1f", "title": "Probability density", "titleX": -54.5, "titleY": 148.5}}
              }
            },
            {
              "data": {"name": "kde"},
              "transform": [{"filter": "datum.m === 'MPC'"}],
              "mark": {"type": "area", "interpolate": "monotone", "color": "#ff7f0e", "fillOpacity": 0.25},
              "encoding": {
                "x": {"field": "x", "type": "quantitative"},
                "y": {"field": "d", "type": "quantitative"}
              }
            },
            {
              "data": {"name": "kde"},
              "mark": {"type": "line", "interpolate": "monotone", "strokeWidth": 3.5},
              "encoding": {
                "x": {"field": "x", "type": "quantitative"},
                "y": {"field": "d", "type": "quantitative"},
                "color": {
                  "field": "m", "type": "nominal",
                  "scale": {"domain": ["OL", "MPC"], "range": ["#1f77b4", "#ff7f0e"]},
                  "legend": {
                    "title": null, "orient": "none", "legendX": 92, "legendY": 17.5,
                    "symbolType": "stroke", "symbolSize": 2500, "symbolStrokeWidth": 4,
                    "labelFontSize": 23, "labelOffset": 15, "rowPadding": 11, "padding": 0, "clipHeight": 23
                  }
                }
              }
            },
            {
              "data": {"name": "obj"},
              "transform": [{"filter": "datum.lab"}],
              "mark": {"type": "text", "fontSize": 21, "fontWeight": "bold", "color": "#262626", "baseline": "alphabetic", "align": "center", "dy": 5.7},
              "encoding": {
                "x": {"field": "ol", "type": "quantitative"},
                "y": {"datum": 0, "type": "quantitative"},
                "text": {"field": "lab"}
              }
            }
          ]
        },
        {
          "data": {"name": "kde"},
          "mark": {"type": "point", "opacity": 0},
          "encoding": {
            "y": {"field": "d", "type": "quantitative", "axis": {"orient": "right", "title": "(c)", "labels": false, "ticks": false, "domain": false, "grid": false, "titleAngle": 0, "titleX": -424, "titleY": -2.3, "titleAlign": "left", "titleFontWeight": "bold", "titleFontSize": 22}}
          }
        }
      ],
      "resolve": {"axis": {"x": "independent", "y": "independent"}}
    },
    {
      "width": 310,
      "height": 297,
      "layer": [
        {
          "layer": [
            {
              "data": {"name": "obj"},
              "transform": [{"filter": "!datum.lab"}],
              "mark": {"type": "circle", "size": 55, "color": "#1f77b4", "opacity": 1},
              "encoding": {
                "x": {"field": "ol", "type": "quantitative", "scale": {"domain": [0, 1.5], "nice": false, "zero": false}, "axis": {"values": [0, 0.5, 1, 1.5], "format": ".1f", "title": "OL objective", "titleX": 155, "titleY": 53.5}},
                "y": {"field": "imp", "type": "quantitative", "scale": {"domain": [-0.0655, 0.598], "nice": false, "zero": false}, "axis": {"values": [0, 0.2, 0.4], "format": ".1f", "title": ["MPC absolute", "improvement"], "titleX": -75.7, "titleY": 148.5, "titleLineHeight": 21}}
              }
            },
            {
              "data": {"name": "obj"},
              "transform": [{"filter": "datum.lab"}],
              "mark": {"type": "circle", "size": 100, "color": "#ff7f0e", "opacity": 1},
              "encoding": {
                "x": {"field": "ol", "type": "quantitative"},
                "y": {"field": "imp", "type": "quantitative"}
              }
            },
            {
              "data": {"name": "obj"},
              "transform": [{"filter": "datum.lab === '1'"}],
              "mark": {"type": "text", "fontSize": 21, "fontWeight": "bold", "color": "#262626", "align": "left", "baseline": "alphabetic", "dx": 8, "dy": 5.5},
              "encoding": {"x": {"field": "ol", "type": "quantitative"}, "y": {"field": "imp", "type": "quantitative"}, "text": {"field": "lab"}}
            },
            {
              "data": {"name": "obj"},
              "transform": [{"filter": "datum.lab === '2'"}],
              "mark": {"type": "text", "fontSize": 21, "fontWeight": "bold", "color": "#262626", "align": "left", "baseline": "alphabetic", "dx": 5, "dy": -4.5},
              "encoding": {"x": {"field": "ol", "type": "quantitative"}, "y": {"field": "imp", "type": "quantitative"}, "text": {"field": "lab"}}
            },
            {
              "data": {"name": "obj"},
              "transform": [{"filter": "datum.lab === '3'"}],
              "mark": {"type": "text", "fontSize": 21, "fontWeight": "bold", "color": "#262626", "align": "left", "baseline": "alphabetic", "dx": 5, "dy": 10.5},
              "encoding": {"x": {"field": "ol", "type": "quantitative"}, "y": {"field": "imp", "type": "quantitative"}, "text": {"field": "lab"}}
            },
            {
              "data": {"name": "obj"},
              "transform": [{"filter": "datum.lab === '4'"}],
              "mark": {"type": "text", "fontSize": 21, "fontWeight": "bold", "color": "#262626", "align": "center", "baseline": "alphabetic", "dx": 0, "dy": -7},
              "encoding": {"x": {"field": "ol", "type": "quantitative"}, "y": {"field": "imp", "type": "quantitative"}, "text": {"field": "lab"}}
            }
          ]
        },
        {
          "data": {"name": "obj"},
          "mark": {"type": "point", "opacity": 0},
          "encoding": {
            "y": {"field": "imp", "type": "quantitative", "axis": {"orient": "right", "title": "(d)", "labels": false, "ticks": false, "domain": false, "grid": false, "titleAngle": 0, "titleX": -428, "titleY": -2.3, "titleAlign": "left", "titleFontWeight": "bold", "titleFontSize": 22}}
          }
        }
      ],
      "resolve": {"axis": {"x": "independent", "y": "independent"}}
    }
  ],
  "config": {
    "font": "Liberation Sans",
    "view": {"stroke": "#cccccc", "strokeWidth": 2.5},
    "axis": {
      "labelFont": "Liberation Sans", "labelFontSize": 20.5, "labelColor": "#262626", "labelPadding": 9,
      "labelFlush": false, "labelOverlap": false,
      "titleFont": "Liberation Sans", "titleFontSize": 21, "titleColor": "#262626", "titleFontWeight": "normal",
      "titleBaseline": "alphabetic",
      "ticks": false, "domain": false, "gridColor": "#cccccc", "gridWidth": 1.8, "gridOpacity": 1
    },
    "legend": {"labelFont": "Liberation Sans", "labelColor": "#262626", "symbolOpacity": 1}
  }
}
